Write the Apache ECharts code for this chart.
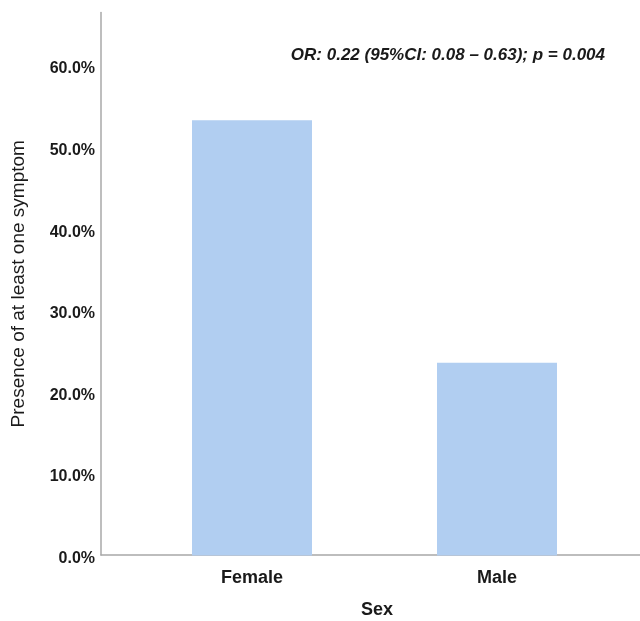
<!DOCTYPE html>
<html>
<head>
<meta charset="utf-8">
<script src="https://cdn.jsdelivr.net/npm/echarts@6/dist/echarts.min.js"></script>
<style>
html,body{margin:0;padding:0;background:#fff;}
#chart{width:640px;height:621px;}
</style>
</head>
<body>
<div id="chart"></div>
<script>
var categories = ['Female', 'Male'];
var presence = [53.3, 23.6];
var yTicks = [0, 10, 20, 30, 40, 50, 60];
var yMax = 66.5;
var annotation = 'OR: 0.22 (95%CI: 0.08 \u2013 0.63); p = 0.004';
var xTitle = 'Sex';
var yTitle = 'Presence of at least one symptom';

var FONT = '"Liberation Sans", Arial, sans-serif';
var chart = echarts.init(document.getElementById('chart'), null, {renderer: 'canvas'});

var axisLineStyle = {color: '#a8a8a8', width: 1.5};

chart.setOption({
  backgroundColor: '#ffffff',
  animation: false,
  title: {
    text: annotation,
    right: 30,
    top: 42,
    textStyle: {fontFamily: FONT, fontSize: 17, fontWeight: 'bold', fontStyle: 'italic', color: '#1a1a1a'}
  },
  grid: [
    {left: 101, right: 0, top: 12.5, bottom: 66, containLabel: false, outerBoundsMode: 'none'},
    {left: 129.5, right: 20.5, top: 12.5, bottom: 65.5, containLabel: false, outerBoundsMode: 'none'}
  ],
  xAxis: [
    {
      gridIndex: 0, type: 'category', data: categories,
      axisLine: {show: true, lineStyle: axisLineStyle},
      axisTick: {show: false}, axisLabel: {show: false}, splitLine: {show: false}
    },
    {
      gridIndex: 1, type: 'category', data: categories,
      axisLine: {show: false}, axisTick: {show: false}, splitLine: {show: false},
      axisLabel: {show: true, margin: 14, fontFamily: FONT, fontSize: 18, fontWeight: 'bold', color: '#1a1a1a'},
      name: xTitle, nameLocation: 'middle', nameGap: 46,
      nameTextStyle: {fontFamily: FONT, fontSize: 18, fontWeight: 'bold', color: '#1a1a1a', padding: [0, 0, 0, 5]}
    }
  ],
  yAxis: [
    {
      gridIndex: 0, type: 'value', min: 0, max: yMax, interval: 10,
      axisLine: {show: true, lineStyle: axisLineStyle},
      axisTick: {show: false}, splitLine: {show: false},
      axisLabel: {
        show: true, margin: 6, fontFamily: FONT, fontSize: 16, fontWeight: 'bold', color: '#1a1a1a',
        verticalAlign: 'top', lineHeight: 7,
        formatter: function (v) { return yTicks.indexOf(Math.round(v * 1000) / 1000) >= 0 ? v.toFixed(1) + '%' : ''; }
      },
      name: yTitle, nameLocation: 'middle', nameGap: 73,
      nameTextStyle: {fontFamily: FONT, fontSize: 19, color: '#1a1a1a'}
    },
    {
      gridIndex: 1, type: 'value', min: 0, max: yMax, interval: 10,
      axisLine: {show: false}, axisTick: {show: false}, splitLine: {show: false}, axisLabel: {show: false}
    }
  ],
  series: [
    {
      type: 'bar', xAxisIndex: 1, yAxisIndex: 1,
      data: presence, barWidth: 120,
      itemStyle: {color: '#b1cef1'}
    }
  ]
});
</script>
</body>
</html>
